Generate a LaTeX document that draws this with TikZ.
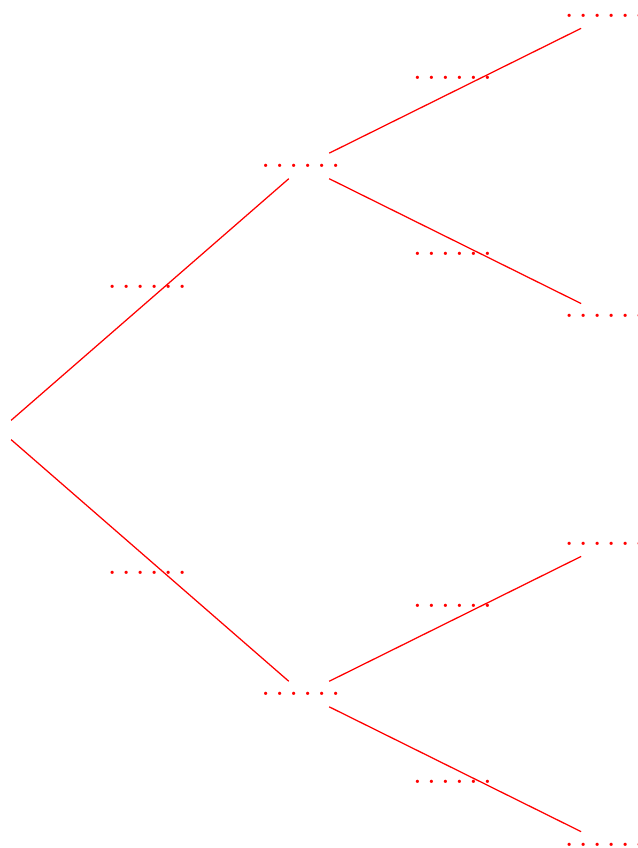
\documentclass[tikz,border=0pt]{standalone}
\usepackage{tikz}
\usetikzlibrary{positioning}

\newcommand{\blank}{.\kern1.67pt.\kern1.67pt.\kern1.67pt.\kern1.67pt.\kern1.67pt.\kern1.67pt}

\begin{document}
\begin{tikzpicture}[on grid, every node/.style={text=red,inner sep=3.33pt}, branch/.style={draw=red,line width=0.4pt}]
  \useasboundingbox (0,-4.67) rectangle (7.117,4.804);
  \node (r) at (0,0) {};
  \node (a) [above right=2.95cm and 3.39cm of r] {\blank};
  \node (b) [below right=2.95cm and 3.39cm of r] {\blank};
  \node (a1) [above right=1.68cm and 3.39cm of a] {\blank};
  \node (a2) [below right=1.68cm and 3.39cm of a] {\blank};
  \node (b1) [above right=1.68cm and 3.39cm of b] {\blank};
  \node (b2) [below right=1.68cm and 3.39cm of b] {\blank};
  \draw[branch] (r)--node[above]{\blank}(a);
  \draw[branch] (r)--node[below]{\blank}(b);
  \draw[branch] (a)--node[above]{\blank}(a1);
  \draw[branch] (a)--node[below]{\blank}(a2);
  \draw[branch] (b)--node[above]{\blank}(b1);
  \draw[branch] (b)--node[below]{\blank}(b2);
\end{tikzpicture}
\end{document}
